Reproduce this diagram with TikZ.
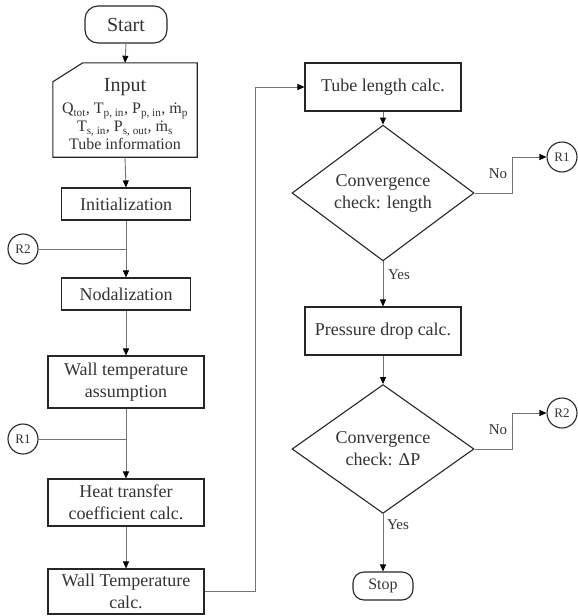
\documentclass[tikz,border=0pt]{standalone}
\usepackage{fontspec}
\setmainfont{Liberation Serif}
\usetikzlibrary{arrows.meta,shapes.geometric}
\begin{document}
\begin{tikzpicture}[x=1pt,y=-1pt,
  box/.style={draw=black!85,line width=1.1pt,rectangle,align=center,text=black!80,font=\fontsize{18}{22}\selectfont,inner sep=0pt},
  term/.style={box,rounded corners=13pt},
  decision/.style={draw=black!85,line width=1.1pt,diamond,align=center,inner sep=0pt,minimum width=182pt,minimum height=91pt,font=\fontsize{18}{22}\selectfont,text=black!80},
  conn/.style={draw=black!55,line width=0.9pt},
  arr/.style={conn,-{Triangle[length=7pt,width=6pt,color=black]}},
  refc/.style={circle,draw=black!85,line width=1.1pt,minimum size=30pt,inner sep=0pt,font=\fontsize{13}{15}\selectfont,text=black!80},
  lab/.style={font=\fontsize{15}{17}\selectfont,text=black!80,inner sep=0pt}
]
\useasboundingbox (0,0) rectangle (578,616);

% left column
\node[term,minimum width=82pt,minimum height=37pt,font=\fontsize{20}{24}\selectfont] (start) at (126,24.5) {Start};
\node[minimum width=144pt,minimum height=94pt,inner sep=0pt] (input) at (125,110) {};
\draw[draw=black!85,line width=1.1pt] (input.south west) -- ([yshift=-19pt]input.north west) -- ([xshift=30pt]input.north west) -- (input.north east) -- (input.south east) -- cycle;
\node[inner sep=0pt,align=center,text=black!80,font=\fontsize{16}{18}\selectfont] (inputtxt) at (125,114)
  {{\fontsize{20}{24}\selectfont Input}\\[4pt]
   Q\textsubscript{tot}, T\textsubscript{p, in}, P\textsubscript{p, in}, ṁ\textsubscript{p}\\
   T\textsubscript{s, in}, P\textsubscript{s, out}, ṁ\textsubscript{s}\\
   Tube information};
\node[box,minimum width=129pt,minimum height=32pt] (init) at (126,204) {Initialization};
\node[box,minimum width=129pt,minimum height=32pt] (nodal) at (126,294) {Nodalization};
\node[box,minimum width=156pt,minimum height=52pt] (wta) at (126,382) {Wall temperature\\assumption};
\node[box,minimum width=156pt,minimum height=47pt] (htc) at (126,502.5) {Heat transfer\\coefficient calc.};
\node[box,minimum width=156pt,minimum height=45pt] (wtc) at (126,591.5) {Wall Temperature\\calc.};
\node[refc] (r2l) at (23,249) {R2};
\node[refc] (r1l) at (23,439) {R1};

% right column
\node[box,minimum width=156pt,minimum height=48pt] (tube) at (383,87) {Tube length calc.};
\node[decision] (d1) at (383,193) {Convergence\\check: length};
\node[box,minimum width=156pt,minimum height=48pt] (pdc) at (383,331) {Pressure drop calc.};
\node[decision] (d2) at (383,449) {Convergence\\check: ΔP};
\node[term,minimum width=60pt,minimum height=28pt,rounded corners=11pt,font=\fontsize{16}{19}\selectfont] (stop) at (383,586) {Stop};
\node[refc] (r1r) at (562,157) {R1};
\node[refc] (r2r) at (562,413) {R2};

% connectors
\draw[arr] (start.south) -- (input.north);
\draw[arr] (input.south) -- (init.north);
\draw[arr] (init.south) -- (nodal.north);
\draw[conn] (r2l.east) -- (init.south |- r2l.east);
\draw[arr] (nodal.south) -- (wta.north);
\draw[arr] (wta.south) -- (htc.north);
\draw[conn] (r1l.east) -- (wta.south |- r1l.east);
\draw[arr] (htc.south) -- (wtc.north);
\draw[arr] (wtc.east) -- ++(51,0) |- (tube.west);
\draw[arr] (tube.south) -- (d1.north);
\draw[arr] (d1.east) -- ++(38,0) |- (r1r.west);
\draw[arr] (d1.south) -- (pdc.north);
\draw[arr] (pdc.south) -- (d2.north);
\draw[arr] (d2.east) -- ++(38,0) |- (r2r.west);
\draw[arr] (d2.south) -- (stop.north);

% labels
\node[lab] (no1) at (498,174) {No};
\node[lab] (yes1) at (399,275) {Yes};
\node[lab] (no2) at (498,430) {No};
\node[lab] (yes2) at (398,525) {Yes};
\end{tikzpicture}
\end{document}
